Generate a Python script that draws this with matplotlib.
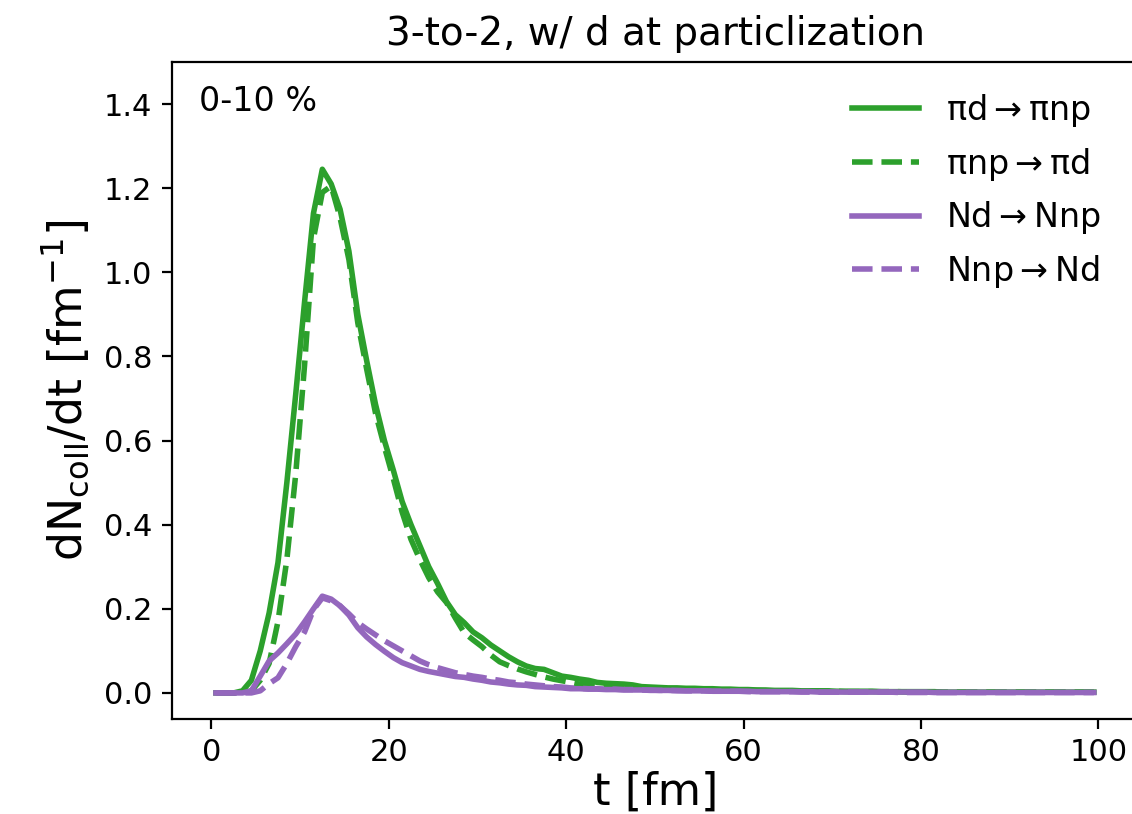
import matplotlib
matplotlib.use("Agg")
import matplotlib.pyplot as plt
import numpy as np

t = [0.5 + i for i in range(100)]

pid_to_pinp = [
    0.0, 0.0, 0.0, 0.005, 0.03, 0.10, 0.19, 0.31, 0.50, 0.71,
    0.93, 1.14, 1.245, 1.21, 1.15, 1.05, 0.90, 0.79, 0.686, 0.60,
    0.53, 0.455, 0.40, 0.35, 0.30, 0.26, 0.217, 0.186, 0.167, 0.145,
    0.131, 0.114, 0.100, 0.086, 0.074, 0.064, 0.058, 0.056, 0.048, 0.040,
    0.037, 0.033, 0.030, 0.025, 0.023, 0.022, 0.021, 0.019, 0.015, 0.014,
    0.013, 0.012, 0.012, 0.011, 0.011, 0.010, 0.010, 0.009, 0.009, 0.008,
    0.008, 0.007, 0.007, 0.006, 0.006, 0.006, 0.005, 0.005, 0.005, 0.005,
    0.004, 0.004, 0.004, 0.004, 0.004, 0.003, 0.003, 0.003, 0.003, 0.003,
    0.003, 0.003, 0.002, 0.002, 0.002, 0.002, 0.002, 0.002, 0.002, 0.002,
    0.002, 0.002, 0.002, 0.002, 0.002, 0.002, 0.002, 0.002, 0.002, 0.002,
]
pinp_to_pid = [
    0.0, 0.0, 0.0, 0.0, 0.005, 0.03, 0.07, 0.17, 0.317, 0.52,
    0.78, 1.08, 1.19, 1.205, 1.13, 1.03, 0.88, 0.77, 0.665, 0.585,
    0.51, 0.43, 0.365, 0.317, 0.274, 0.24, 0.215, 0.178, 0.143, 0.126,
    0.110, 0.090, 0.074, 0.065, 0.057, 0.050, 0.044, 0.038, 0.033, 0.029,
    0.025, 0.021, 0.019, 0.017, 0.015, 0.014, 0.013, 0.012, 0.011, 0.011,
    0.010, 0.010, 0.009, 0.009, 0.008, 0.008, 0.007, 0.007, 0.007, 0.006,
    0.006, 0.006, 0.005, 0.005, 0.005, 0.005, 0.004, 0.004, 0.004, 0.004,
    0.004, 0.003, 0.003, 0.003, 0.003, 0.003, 0.003, 0.003, 0.002, 0.002,
    0.002, 0.002, 0.002, 0.002, 0.002, 0.002, 0.002, 0.002, 0.002, 0.002,
    0.002, 0.002, 0.002, 0.002, 0.002, 0.002, 0.002, 0.002, 0.002, 0.002,
]
Nd_to_Nnp = [
    0.0, 0.0, 0.0, 0.0, 0.005, 0.04, 0.076, 0.095, 0.117, 0.14,
    0.169, 0.20, 0.23, 0.223, 0.207, 0.185, 0.155, 0.133, 0.115, 0.099,
    0.084, 0.072, 0.064, 0.056, 0.051, 0.047, 0.043, 0.039, 0.037, 0.033,
    0.030, 0.026, 0.024, 0.021, 0.019, 0.018, 0.015, 0.014, 0.013, 0.012,
    0.010, 0.010, 0.009, 0.009, 0.008, 0.008, 0.007, 0.007, 0.007, 0.006,
    0.006, 0.006, 0.005, 0.005, 0.005, 0.005, 0.004, 0.004, 0.004, 0.004,
    0.004, 0.003, 0.003, 0.003, 0.003, 0.003, 0.003, 0.003, 0.002, 0.002,
    0.002, 0.002, 0.002, 0.002, 0.002, 0.002, 0.002, 0.002, 0.002, 0.002,
    0.002, 0.001, 0.001, 0.001, 0.001, 0.001, 0.001, 0.001, 0.001, 0.001,
    0.001, 0.001, 0.001, 0.001, 0.001, 0.001, 0.001, 0.001, 0.001, 0.001,
]
Nnp_to_Nd = [
    0.0, 0.0, 0.0, 0.0, 0.0, 0.005, 0.022, 0.036, 0.07, 0.11,
    0.145, 0.198, 0.226, 0.219, 0.207, 0.188, 0.167, 0.152, 0.138, 0.124,
    0.112, 0.100, 0.088, 0.076, 0.067, 0.060, 0.054, 0.048, 0.044, 0.040,
    0.037, 0.033, 0.030, 0.026, 0.024, 0.021, 0.019, 0.017, 0.015, 0.014,
    0.012, 0.011, 0.010, 0.010, 0.009, 0.009, 0.008, 0.008, 0.007, 0.007,
    0.006, 0.006, 0.006, 0.005, 0.005, 0.005, 0.004, 0.004, 0.004, 0.004,
    0.003, 0.003, 0.003, 0.003, 0.003, 0.003, 0.002, 0.002, 0.002, 0.002,
    0.002, 0.002, 0.002, 0.002, 0.002, 0.002, 0.002, 0.001, 0.001, 0.001,
    0.001, 0.001, 0.001, 0.001, 0.001, 0.001, 0.001, 0.001, 0.001, 0.001,
    0.001, 0.001, 0.001, 0.001, 0.001, 0.001, 0.001, 0.001, 0.001, 0.001,
]

labels = [r"$\mathrm{\pi d \rightarrow \pi np}$",
          r"$\mathrm{\pi np \rightarrow \pi d}$",
          r"$\mathrm{Nd \rightarrow Nnp}$",
          r"$\mathrm{Nnp \rightarrow Nd}$"]
green = "#2ca02c"
purple = "#9467bd"

fig = plt.figure(figsize=(1132 / 200, 814 / 200), dpi=200)
ax = fig.add_axes([172 / 1132, 1 - 719 / 814, (1140 - 172) / 1132, (719 - 62) / 814])

ax.plot(t, pid_to_pinp, color=green, lw=2, ls="-", label=labels[0])
ax.plot(t, pinp_to_pid, color=green, lw=2, ls="--", label=labels[1])
ax.plot(t, Nd_to_Nnp, color=purple, lw=2, ls="-", label=labels[2])
ax.plot(t, Nnp_to_Nd, color=purple, lw=2, ls="--", label=labels[3])

ax.set_xlim(-4.45, 104.7)
ax.set_ylim(-0.062, 1.5)
ax.set_xticks([0, 20, 40, 60, 80, 100])
ax.set_yticks([0.0, 0.2, 0.4, 0.6, 0.8, 1.0, 1.2, 1.4])
ax.tick_params(labelsize=11)
ax.spines["right"].set_visible(False)

ax.set_xlabel("t [fm]", fontsize=16, labelpad=1)
ax.set_ylabel(r"dN$_{\rm coll}$/dt [fm$^{-1}$]", fontsize=16.5)
ax.set_title("3-to-2, w/ d at particlization", fontsize=14)
ax.text(0.028, 0.965, "0-10 %", transform=ax.transAxes, fontsize=12, va="top", ha="left")
ax.legend(loc="upper right", frameon=False, fontsize=12, bbox_to_anchor=(0.99, 1.0))

fig.savefig("out.png", dpi=200)
